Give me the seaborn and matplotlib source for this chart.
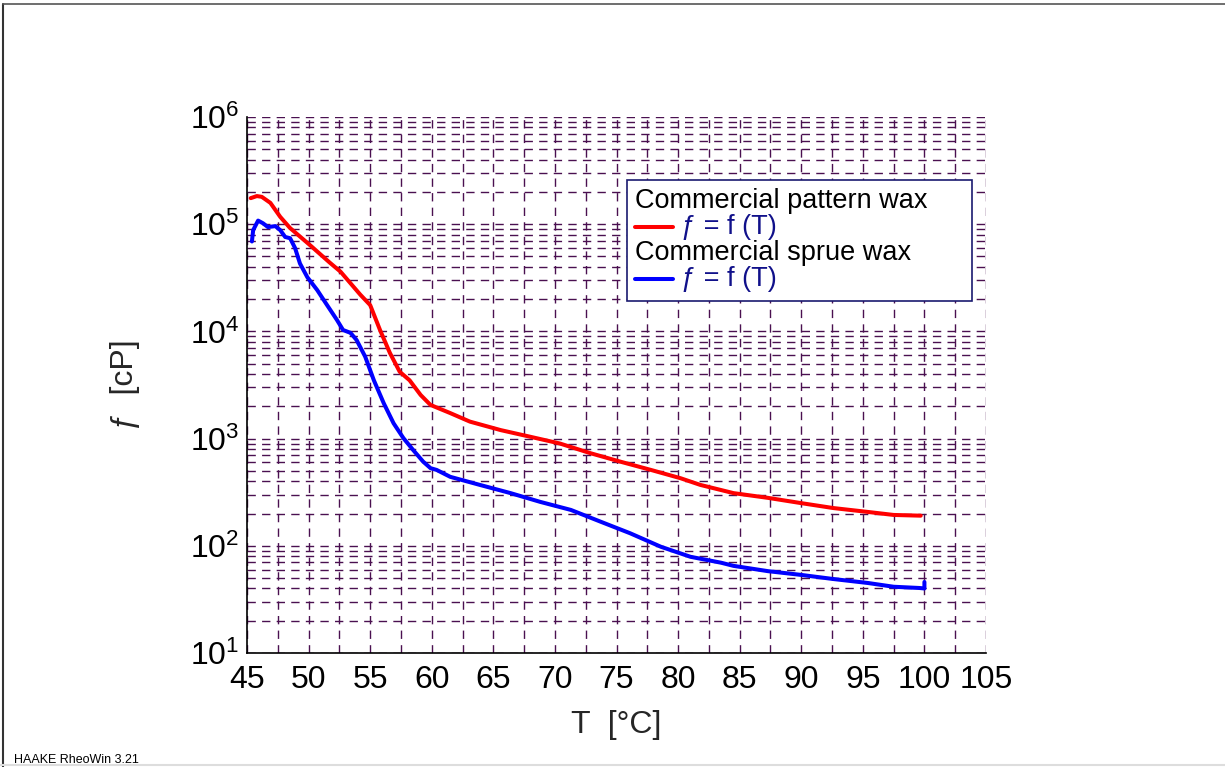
import pandas as pd
import matplotlib.pyplot as plt
import matplotlib.ticker as mticker
from matplotlib.lines import Line2D
from matplotlib.offsetbox import AnchoredOffsetbox, VPacker, HPacker, TextArea, DrawingArea
import seaborn as sns

# Werte (T in °C, Viskosität in cP)
t_pattern = [45.3, 45.8, 46.2, 46.9, 47.7, 48.5, 50.1, 51.7, 52.6, 54.2, 55.0, 55.8,
             56.6, 57.4, 58.2, 59.1, 59.9, 61.5, 63.1, 65.6, 68.0, 70.4, 72.9, 75.3,
             77.8, 80.2, 81.8, 84.5, 87.3, 90.0, 92.6, 95.4, 97.5, 99.7]
v_pattern = [1.75e5, 1.83e5, 1.80e5, 1.58e5, 1.17e5, 9.2e4, 6.4e4, 4.4e4, 3.6e4, 2.2e4,
             1.76e4, 1.03e4, 6.3e3, 4.2e3, 3.5e3, 2.55e3, 2.06e3, 1.73e3, 1.44e3, 1.20e3,
             1.04e3, 9.0e2, 7.3e2, 6.1e2, 5.1e2, 4.27e2, 3.7e2, 3.1e2, 2.8e2, 2.5e2,
             2.25e2, 2.07e2, 1.94e2, 1.91e2]

t_sprue = [45.4, 45.5, 45.9, 46.3, 46.7, 47.3, 47.7, 48.1, 48.5, 48.9, 49.3, 49.9,
           50.7, 51.5, 52.3, 52.8, 53.4, 53.9, 54.6, 55.3, 56.1, 56.9, 57.7, 58.5,
           59.3, 59.9, 60.4, 61.5, 63.9, 66.4, 68.8, 71.3, 73.7, 76.1, 78.6, 81.0,
           83.5, 84.5, 87.3, 90.0, 92.6, 95.4, 97.5, 99.6, 100.0, 100.0]
v_sprue = [6.9e4, 8.8e4, 1.08e5, 1.02e5, 9.4e4, 9.6e4, 8.8e4, 7.6e4, 7.4e4, 6.0e4,
           4.3e4, 3.2e4, 2.43e4, 1.76e4, 1.28e4, 1.03e4, 9.7e3, 8.3e3, 5.8e3, 3.5e3,
           2.14e3, 1.39e3, 1.01e3, 7.8e2, 6.1e2, 5.3e2, 5.1e2, 4.4e2, 3.7e2, 3.1e2,
           2.57e2, 2.16e2, 1.68e2, 1.31e2, 9.8e1, 7.9e1, 6.95e1, 6.5e1, 5.8e1, 5.35e1,
           4.9e1, 4.5e1, 4.15e1, 4.04e1, 4.0e1, 4.6e1]

series_names = ['Commercial pattern wax', 'Commercial sprue wax']
series_colors = ['#ff0000', '#0000ff']
entry_label = 'ƒ = f (T)'
x_ticks = [45, 50, 55, 60, 65, 70, 75, 80, 85, 90, 95, 100, 105]

df = pd.concat([
    pd.DataFrame({'T': t_pattern, 'eta': v_pattern, 'wax': series_names[0]}),
    pd.DataFrame({'T': t_sprue, 'eta': v_sprue, 'wax': series_names[1]}),
], ignore_index=True)

sns.set_style('white')
plt.rcParams['font.family'] = ['Liberation Sans', 'DejaVu Sans']
plt.rcParams['mathtext.fontset'] = 'custom'
plt.rcParams['mathtext.rm'] = 'Liberation Sans'
plt.rcParams['mathtext.it'] = 'Liberation Sans:italic'

fig = plt.figure(figsize=(12.25, 7.67), dpi=100)
ax = fig.add_axes([247 / 1225, 1 - 653 / 767, 739 / 1225, 536 / 767])

sns.lineplot(data=df, x='T', y='eta', hue='wax', palette=series_colors,
             estimator=None, sort=False, linewidth=2.9, legend=False, ax=ax)

ax.set_yscale('log')
ax.set_xlim(45, 105)
ax.set_ylim(10, 1e6)
ax.set_xticks(x_ticks)
ax.xaxis.set_minor_locator(mticker.MultipleLocator(2.5))
ax.yaxis.set_major_locator(mticker.LogLocator(base=10, numticks=10))
ax.yaxis.set_minor_locator(mticker.LogLocator(base=10, subs=range(2, 10), numticks=20))
ax.yaxis.set_minor_formatter(mticker.NullFormatter())

grid_kw = dict(color='#4a1050', linestyle=(0, (6, 4.5)), linewidth=1.0)
ax.grid(True, which='both', axis='both', **grid_kw)
ax.set_axisbelow(True)

for s in ['top', 'right']:
    ax.spines[s].set_visible(False)
for s in ['left', 'bottom']:
    ax.spines[s].set_color('black')
    ax.spines[s].set_linewidth(1.2)

ax.tick_params(which='major', direction='inout', length=7, width=1, labelsize=23,
               colors='black', pad=2)
ax.tick_params(which='minor', direction='inout', length=5, width=1)
ax.tick_params(axis='x', pad=5)

ax.set_xlabel('T  [°C]', fontsize=23, labelpad=11)
ax.set_ylabel('ƒ  [cP]', fontsize=23, labelpad=36)

# Legende nachgebaut: Kopfzeilen schwarz, Einträge mit Linie und dunkelblauem Text
px = 72 / 100  # Pixel -> Punkte
rows = []
for name, col in zip(series_names, series_colors):
    rows.append(TextArea(name, textprops=dict(fontsize=19.5, color='black')))
    da = DrawingArea(38 * px, 14 * px, 0, 0)
    da.add_artist(Line2D([0, 38 * px], [7 * px, 7 * px], color=col, linewidth=2.9))
    rows.append(HPacker(children=[da, TextArea(entry_label,
                                               textprops=dict(fontsize=19.5, color='#10108a'))],
                        align='center', pad=0, sep=8 * px))
rows.append(DrawingArea(328 * px, 0, 0, 0))
box = VPacker(children=rows, align='left', pad=0, sep=0)
leg = AnchoredOffsetbox(loc='upper left', child=box, pad=0.6, borderpad=0,
                        frameon=True, bbox_to_anchor=(0.514, 0.8825),
                        bbox_transform=ax.transAxes)
leg.patch.set_boxstyle('square', pad=0)
leg.patch.set_edgecolor('#1a1a70')
leg.patch.set_linewidth(1.2)
ax.add_artist(leg)

# Rahmen und Fußzeile der RheoWin-Ausgabe
fig.add_artist(Line2D([3 / 1225, 3 / 1225], [0, 1 - 4 / 767], transform=fig.transFigure,
                      color='#333333', linewidth=1.5))
fig.add_artist(Line2D([3 / 1225, 1], [1 - 4 / 767, 1 - 4 / 767], transform=fig.transFigure,
                      color='#555555', linewidth=1.2))
fig.add_artist(Line2D([0, 1], [2 / 767, 2 / 767], transform=fig.transFigure,
                      color='#dddddd', linewidth=1.5))
fig.text(14 / 1225, 1 / 767, 'HAAKE RheoWin 3.21', fontsize=9, color='black',
         ha='left', va='bottom')

fig.savefig('out.png', dpi=100)
